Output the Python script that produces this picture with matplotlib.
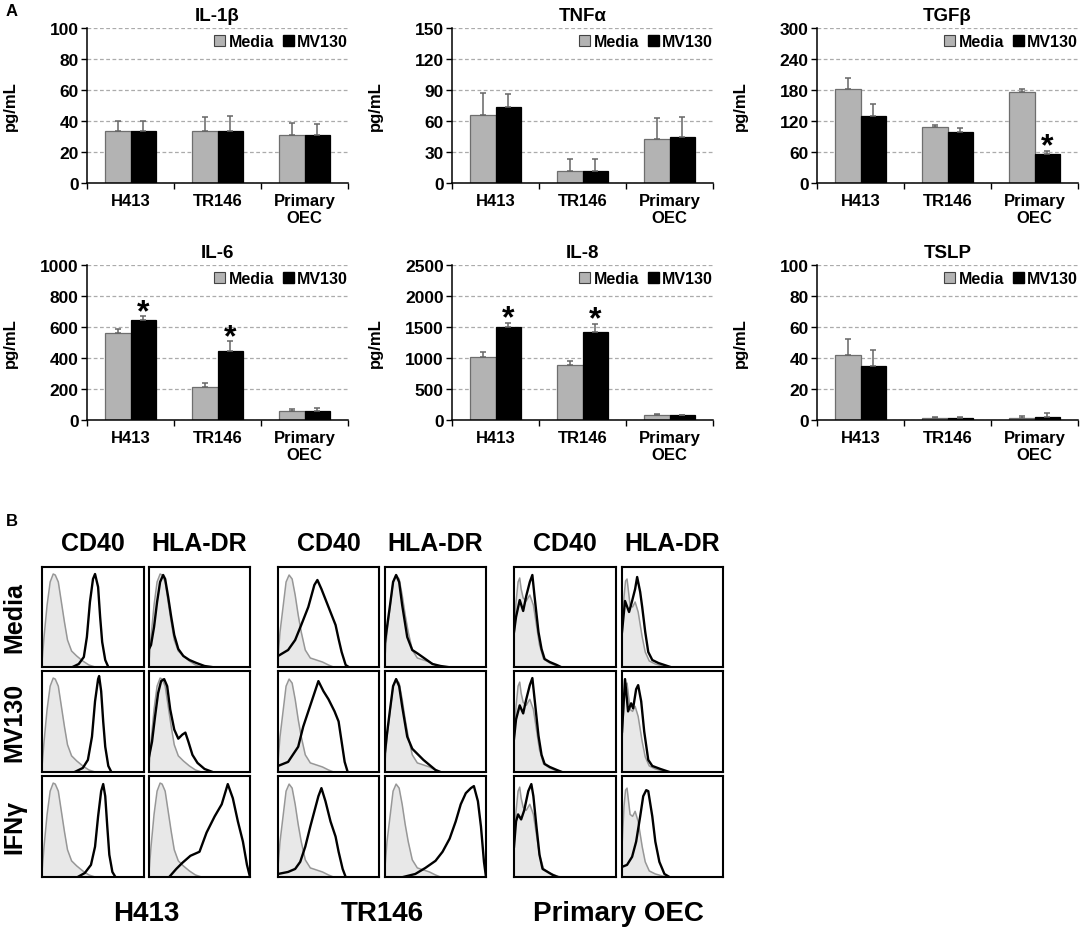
import numpy as np
import matplotlib
matplotlib.use("Agg")
import matplotlib.pyplot as plt
import matplotlib.patches as mpatches

plt.rcParams["font.family"] = ["Liberation Sans", "DejaVu Sans"]
plt.rcParams["font.weight"] = "bold"

W, H = 1084, 937

MEDIA_FILL = "#b3b3b3"
MEDIA_EDGE = "#6e6e6e"
ERR_COLOR  = "#666666"
GRID_COLOR = "#ababab"
ISO_FILL   = "#e8e8e8"
ISO_LINE   = "#979797"

# ---------------- panel A data (pg/mL) ----------------
cells = ["H413", "TR146", "Primary\nOEC"]

il1b_media     = [33.8, 33.3, 31.2]
il1b_media_err = [6.2, 9.3, 7.5]
il1b_mv130     = [33.8, 33.8, 31.2]
il1b_mv130_err = [6.2, 9.2, 6.8]

tnfa_media     = [65.8, 11.6, 42.3]
tnfa_media_err = [21.0, 11.6, 20.9]
tnfa_mv130     = [73.2, 11.6, 44.8]
tnfa_mv130_err = [12.8, 11.6, 18.7]

tgfb_media     = [182, 108, 177]
tgfb_media_err = [21, 4, 4]
tgfb_mv130     = [130, 98, 57]
tgfb_mv130_err = [23, 9, 5.5]

il6_media     = [561, 215, 60]
il6_media_err = [26, 22, 11]
il6_mv130     = [645, 447, 60]
il6_mv130_err = [24, 60, 15]

il8_media     = [1011, 887, 86]
il8_media_err = [91, 70, 5]
il8_mv130     = [1495, 1419, 75]
il8_mv130_err = [75, 135, 5]

tslp_media     = [42.1, 1.5, 1.1]
tslp_media_err = [9.9, 0.7, 1.3]
tslp_mv130     = [34.6, 1.3, 1.9]
tslp_mv130_err = [10.8, 0.9, 2.4]

# index of MV130 bars flagged with an asterisk
tgfb_stars = [2]
il6_stars  = [0, 1]
il8_stars  = [0, 1]

# ---------------- panel B histograms (fraction of box width / height) ----------------
h413_iso_x = [0.0, 0.02, 0.05, 0.08, 0.11, 0.13, 0.16, 0.19, 0.22, 0.25, 0.29, 0.34, 0.40, 0.46, 0.52]
h413_iso_y = [0.05, 0.30, 0.62, 0.85, 0.93, 0.92, 0.85, 0.65, 0.45, 0.27, 0.16, 0.11, 0.06, 0.02, 0.0]

h413_cd40_media_x = [0.30, 0.36, 0.41, 0.44, 0.47, 0.50, 0.52, 0.55, 0.57, 0.59, 0.62, 0.65]
h413_cd40_media_y = [0.0, 0.03, 0.10, 0.30, 0.65, 0.88, 0.93, 0.80, 0.50, 0.25, 0.07, 0.0]
h413_cd40_mv130_x = [0.32, 0.40, 0.45, 0.49, 0.52, 0.55, 0.56, 0.58, 0.60, 0.62, 0.65, 0.68]
h413_cd40_mv130_y = [0.0, 0.04, 0.12, 0.35, 0.70, 0.92, 0.95, 0.80, 0.50, 0.25, 0.06, 0.0]
h413_cd40_ifng_x = [0.35, 0.42, 0.48, 0.52, 0.55, 0.58, 0.60, 0.62, 0.64, 0.66, 0.69, 0.72]
h413_cd40_ifng_y = [0.0, 0.04, 0.12, 0.30, 0.60, 0.85, 0.92, 0.80, 0.50, 0.22, 0.05, 0.0]

h413_hla_media_x = [0.0, 0.02, 0.05, 0.08, 0.11, 0.14, 0.16, 0.19, 0.22, 0.25, 0.29, 0.34, 0.40, 0.47, 0.55, 0.62]
h413_hla_media_y = [0.18, 0.22, 0.40, 0.65, 0.85, 0.92, 0.88, 0.70, 0.50, 0.32, 0.18, 0.11, 0.07, 0.04, 0.01, 0.0]
h413_hla_mv130_x = [0.0, 0.03, 0.06, 0.09, 0.12, 0.15, 0.18, 0.21, 0.25, 0.29, 0.33, 0.36, 0.39, 0.43, 0.48, 0.55, 0.63]
h413_hla_mv130_y = [0.15, 0.30, 0.55, 0.78, 0.90, 0.92, 0.85, 0.62, 0.42, 0.33, 0.37, 0.39, 0.30, 0.17, 0.09, 0.03, 0.0]
h413_hla_ifng_x = [0.20, 0.27, 0.33, 0.41, 0.50, 0.57, 0.65, 0.72, 0.78, 0.83, 0.88, 0.93, 0.97, 1.0]
h413_hla_ifng_y = [0.0, 0.08, 0.14, 0.21, 0.25, 0.44, 0.60, 0.72, 0.92, 0.78, 0.55, 0.35, 0.12, 0.0]

tr146_iso_x = [0.0, 0.02, 0.05, 0.08, 0.11, 0.14, 0.17, 0.20, 0.23, 0.27, 0.32, 0.38, 0.44, 0.50, 0.55]
tr146_iso_y = [0.10, 0.35, 0.60, 0.85, 0.92, 0.88, 0.72, 0.52, 0.35, 0.17, 0.09, 0.07, 0.05, 0.02, 0.0]

tr146_cd40_media_x = [0.0, 0.10, 0.17, 0.23, 0.30, 0.36, 0.39, 0.43, 0.50, 0.57, 0.60, 0.63, 0.67, 0.70]
tr146_cd40_media_y = [0.11, 0.17, 0.27, 0.42, 0.60, 0.82, 0.87, 0.78, 0.60, 0.42, 0.28, 0.15, 0.02, 0.0]
tr146_cd40_mv130_x = [0.0, 0.10, 0.20, 0.25, 0.30, 0.36, 0.40, 0.45, 0.50, 0.56, 0.60, 0.63, 0.66, 0.69]
tr146_cd40_mv130_y = [0.06, 0.10, 0.25, 0.45, 0.60, 0.78, 0.90, 0.80, 0.72, 0.60, 0.50, 0.30, 0.10, 0.0]
tr146_cd40_ifng_x = [0.0, 0.10, 0.17, 0.22, 0.27, 0.32, 0.36, 0.40, 0.43, 0.47, 0.52, 0.57, 0.60, 0.64, 0.67]
tr146_cd40_ifng_y = [0.03, 0.05, 0.08, 0.15, 0.30, 0.50, 0.65, 0.80, 0.88, 0.75, 0.55, 0.40, 0.25, 0.08, 0.0]

tr146_hla_media_x = [0.0, 0.02, 0.05, 0.08, 0.11, 0.14, 0.17, 0.22, 0.27, 0.33, 0.40, 0.47, 0.55, 0.62]
tr146_hla_media_y = [0.25, 0.40, 0.62, 0.85, 0.92, 0.85, 0.62, 0.30, 0.17, 0.13, 0.08, 0.03, 0.01, 0.0]
tr146_hla_mv130_x = [0.0, 0.02, 0.05, 0.08, 0.11, 0.14, 0.17, 0.22, 0.27, 0.33, 0.38, 0.44, 0.50, 0.55]
tr146_hla_mv130_y = [0.20, 0.38, 0.62, 0.85, 0.92, 0.85, 0.65, 0.35, 0.23, 0.17, 0.12, 0.07, 0.02, 0.0]
tr146_hla_ifng_x = [0.18, 0.30, 0.40, 0.50, 0.57, 0.64, 0.70, 0.75, 0.80, 0.85, 0.88, 0.92, 0.95, 0.98, 1.0]
tr146_hla_ifng_y = [0.0, 0.03, 0.09, 0.16, 0.25, 0.38, 0.55, 0.72, 0.83, 0.88, 0.90, 0.75, 0.50, 0.15, 0.0]

oec_iso_cd40_x = [0.0, 0.02, 0.04, 0.056, 0.07, 0.09, 0.12, 0.155, 0.19, 0.22, 0.25, 0.29, 0.35, 0.42, 0.46]
oec_iso_cd40_y = [0.30, 0.65, 0.85, 0.89, 0.78, 0.69, 0.66, 0.72, 0.62, 0.42, 0.22, 0.08, 0.04, 0.01, 0.0]
oec_iso_hla_x = [0.0, 0.02, 0.035, 0.05, 0.065, 0.08, 0.105, 0.13, 0.16, 0.20, 0.23, 0.27, 0.33, 0.40, 0.45]
oec_iso_hla_y = [0.30, 0.70, 0.86, 0.88, 0.75, 0.62, 0.60, 0.65, 0.55, 0.30, 0.15, 0.06, 0.03, 0.01, 0.0]

oec_cd40_media_x = [0.0, 0.02, 0.056, 0.09, 0.12, 0.155, 0.18, 0.20, 0.24, 0.27, 0.30, 0.35, 0.42, 0.46]
oec_cd40_media_y = [0.35, 0.50, 0.67, 0.56, 0.71, 0.85, 0.92, 0.72, 0.35, 0.18, 0.08, 0.05, 0.02, 0.0]
oec_cd40_mv130_x = [0.0, 0.02, 0.056, 0.09, 0.12, 0.155, 0.18, 0.20, 0.24, 0.27, 0.30, 0.35, 0.42, 0.47]
oec_cd40_mv130_y = [0.33, 0.52, 0.66, 0.58, 0.72, 0.86, 0.93, 0.74, 0.36, 0.17, 0.08, 0.05, 0.02, 0.0]
oec_cd40_ifng_x = [0.0, 0.02, 0.04, 0.07, 0.10, 0.14, 0.17, 0.19, 0.22, 0.25, 0.28, 0.33, 0.38, 0.43]
oec_cd40_ifng_y = [0.30, 0.55, 0.62, 0.57, 0.66, 0.85, 0.92, 0.80, 0.50, 0.22, 0.08, 0.05, 0.02, 0.0]

oec_hla_media_x = [0.0, 0.03, 0.07, 0.10, 0.13, 0.15, 0.18, 0.20, 0.23, 0.26, 0.30, 0.36, 0.42, 0.48]
oec_hla_media_y = [0.35, 0.66, 0.55, 0.66, 0.78, 0.90, 0.75, 0.60, 0.35, 0.15, 0.07, 0.04, 0.02, 0.0]
oec_hla_mv130_x = [0.0, 0.03, 0.06, 0.09, 0.11, 0.14, 0.16, 0.19, 0.22, 0.26, 0.30, 0.38, 0.47]
oec_hla_mv130_y = [0.40, 0.92, 0.60, 0.68, 0.63, 0.82, 0.86, 0.70, 0.40, 0.12, 0.06, 0.03, 0.0]
oec_hla_ifng_x = [0.0, 0.05, 0.10, 0.14, 0.18, 0.21, 0.24, 0.26, 0.30, 0.33, 0.37, 0.42, 0.47]
oec_hla_ifng_y = [0.10, 0.12, 0.20, 0.35, 0.60, 0.80, 0.86, 0.85, 0.60, 0.35, 0.15, 0.03, 0.0]

row_names = ["Media", "MV130", "IFNγ"]
col_names = ["CD40", "HLA-DR"]
group_names = ["H413", "TR146", "Primary OEC"]


def px_axes(fig, left, top, right, bottom):
    return fig.add_axes([left / W, 1 - bottom / H, (right - left) / W, (bottom - top) / H])


def bar_panel(ax, title, media, media_err, mv, mv_err, ymax, step, stars=()):
    x = np.arange(len(cells))
    w = 0.29
    ax.bar(x - w / 2, media, w, color=MEDIA_FILL, edgecolor=MEDIA_EDGE, linewidth=0.9, zorder=2)
    ax.bar(x + w / 2, mv, w, color="black", edgecolor="black", linewidth=0.9, zorder=2)
    zeros = np.zeros(len(cells))
    ax.errorbar(x - w / 2, media, yerr=[zeros, media_err], fmt="none", ecolor=ERR_COLOR,
                elinewidth=1.1, capsize=2, capthick=1.1, zorder=3)
    ax.errorbar(x + w / 2, mv, yerr=[zeros, mv_err], fmt="none", ecolor=ERR_COLOR,
                elinewidth=1.1, capsize=2, capthick=1.1, zorder=3)
    for i in stars:
        ax.annotate("*", (x[i] + w / 2, mv[i] + mv_err[i]), xytext=(0, -2.5),
                    textcoords="offset points", ha="center", va="baseline",
                    fontsize=23, fontweight="bold")

    ax.set_ylim(0, ymax)
    ax.set_yticks(np.arange(0, ymax + step / 2, step))
    ax.yaxis.grid(True, linestyle=(0, (3, 2)), color=GRID_COLOR, linewidth=0.9)
    ax.set_axisbelow(True)
    ax.set_xlim(-0.5, 2.5)
    ax.set_xticks([-0.5, 0.5, 1.5, 2.5])
    ax.set_xticklabels([])
    ax.set_xticks(x, minor=True)
    ax.set_xticklabels(cells, minor=True, fontsize=12, fontweight="bold")
    for lab in ax.get_xticklabels(minor=True):
        lab.set_linespacing(1.2)
    ax.tick_params(axis="x", which="minor", length=0, pad=7)
    ax.tick_params(axis="x", which="major", length=4, width=1, direction="out")
    ax.tick_params(axis="y", length=4, width=1, direction="out", labelsize=12.5, pad=2)
    for lab in ax.get_yticklabels():
        lab.set_fontweight("bold")
    for s in ["top", "right"]:
        ax.spines[s].set_visible(False)
    for s in ["left", "bottom"]:
        ax.spines[s].set_linewidth(1.1)
    ax.set_title(title, fontsize=13.5, fontweight="bold", pad=6)
    ax.set_ylabel("pg/mL", fontsize=12, fontweight="bold")
    ax.yaxis.set_label_coords(-0.265, 0.5)

    handles = [mpatches.Patch(facecolor=MEDIA_FILL, edgecolor="#444444", linewidth=0.8, label="Media"),
               mpatches.Patch(facecolor="black", edgecolor="black", label="MV130")]
    ax.legend(handles=handles, loc="upper right", bbox_to_anchor=(1.0, 0.96), ncol=2,
              frameon=False, handlelength=0.7, handleheight=0.7, handletextpad=0.2,
              columnspacing=0.55, borderaxespad=0, borderpad=0,
              prop={"size": 11.5, "weight": "bold"})


def hist_panel(ax, iso_x, iso_y, x, y):
    ax.fill_between(iso_x, iso_y, 0, color=ISO_FILL, linewidth=0, zorder=1)
    ax.plot(iso_x, iso_y, color=ISO_LINE, linewidth=1.1, zorder=2)
    ax.plot(x, y, color="black", linewidth=1.7, zorder=3)
    ax.set_xlim(0, 1)
    ax.set_ylim(0, 1.0)
    ax.set_xticks([])
    ax.set_yticks([])
    for s in ax.spines.values():
        s.set_linewidth(1.5)


fig = plt.figure(figsize=(W / 100, H / 100), dpi=100)

# ---------------- panel A ----------------
lefts = [87, 452, 817]
width = 261
row_tb = [(29, 184), (266, 421)]

specs = [
    ("IL-1β", il1b_media, il1b_media_err, il1b_mv130, il1b_mv130_err, 100, 20, ()),
    ("TNFα", tnfa_media, tnfa_media_err, tnfa_mv130, tnfa_mv130_err, 150, 30, ()),
    ("TGFβ", tgfb_media, tgfb_media_err, tgfb_mv130, tgfb_mv130_err, 300, 60, tgfb_stars),
    ("IL-6", il6_media, il6_media_err, il6_mv130, il6_mv130_err, 1000, 200, il6_stars),
    ("IL-8", il8_media, il8_media_err, il8_mv130, il8_mv130_err, 2500, 500, il8_stars),
    ("TSLP", tslp_media, tslp_media_err, tslp_mv130, tslp_mv130_err, 100, 20, ()),
]
for k, spec in enumerate(specs):
    r, c = divmod(k, 3)
    top, bottom = row_tb[r]
    ax = px_axes(fig, lefts[c], top, lefts[c] + width, bottom)
    bar_panel(ax, *spec)

fig.text(6 / W, 1 - 11 / H, "A", fontsize=12, fontweight="bold", ha="left", va="center")
fig.text(6 / W, 1 - 521 / H, "B", fontsize=12, fontweight="bold", ha="left", va="center")

# ---------------- panel B ----------------
group_cols = [[(42, 144), (149, 250)], [(278, 379), (385, 486)], [(514, 616), (622, 723)]]
rows_px = [(568, 668), (672, 773), (777, 878)]

iso_curves = [
    [(h413_iso_x, h413_iso_y), (h413_iso_x, h413_iso_y)],
    [(tr146_iso_x, tr146_iso_y), (tr146_iso_x, tr146_iso_y)],
    [(oec_iso_cd40_x, oec_iso_cd40_y), (oec_iso_hla_x, oec_iso_hla_y)],
]
stain_curves = [
    [[(h413_cd40_media_x, h413_cd40_media_y), (h413_hla_media_x, h413_hla_media_y)],
     [(h413_cd40_mv130_x, h413_cd40_mv130_y), (h413_hla_mv130_x, h413_hla_mv130_y)],
     [(h413_cd40_ifng_x, h413_cd40_ifng_y), (h413_hla_ifng_x, h413_hla_ifng_y)]],
    [[(tr146_cd40_media_x, tr146_cd40_media_y), (tr146_hla_media_x, tr146_hla_media_y)],
     [(tr146_cd40_mv130_x, tr146_cd40_mv130_y), (tr146_hla_mv130_x, tr146_hla_mv130_y)],
     [(tr146_cd40_ifng_x, tr146_cd40_ifng_y), (tr146_hla_ifng_x, tr146_hla_ifng_y)]],
    [[(oec_cd40_media_x, oec_cd40_media_y), (oec_hla_media_x, oec_hla_media_y)],
     [(oec_cd40_mv130_x, oec_cd40_mv130_y), (oec_hla_mv130_x, oec_hla_mv130_y)],
     [(oec_cd40_ifng_x, oec_cd40_ifng_y), (oec_hla_ifng_x, oec_hla_ifng_y)]],
]

for g, cols in enumerate(group_cols):
    for ci, (l, r) in enumerate(cols):
        fig.text((l + r) / 2 / W, 1 - 544 / H, col_names[ci], fontsize=18, fontweight="bold",
                 ha="center", va="center")
        for ri, (t, b) in enumerate(rows_px):
            ax = px_axes(fig, l, t, r, b)
            ix, iy = iso_curves[g][ci]
            sx, sy = stain_curves[g][ri][ci]
            hist_panel(ax, ix, iy, sx, sy)
    gl, gr = cols[0][0], cols[1][1]
    fig.text((gl + gr) / 2 / W, 1 - 914 / H, group_names[g], fontsize=20, fontweight="bold",
             ha="center", va="center")

for ri, (t, b) in enumerate(rows_px):
    fig.text(14 / W, 1 - (t + b) / 2 / H, row_names[ri], fontsize=18, fontweight="bold",
             rotation=90, ha="center", va="center")

fig.savefig("out.png", dpi=100)
